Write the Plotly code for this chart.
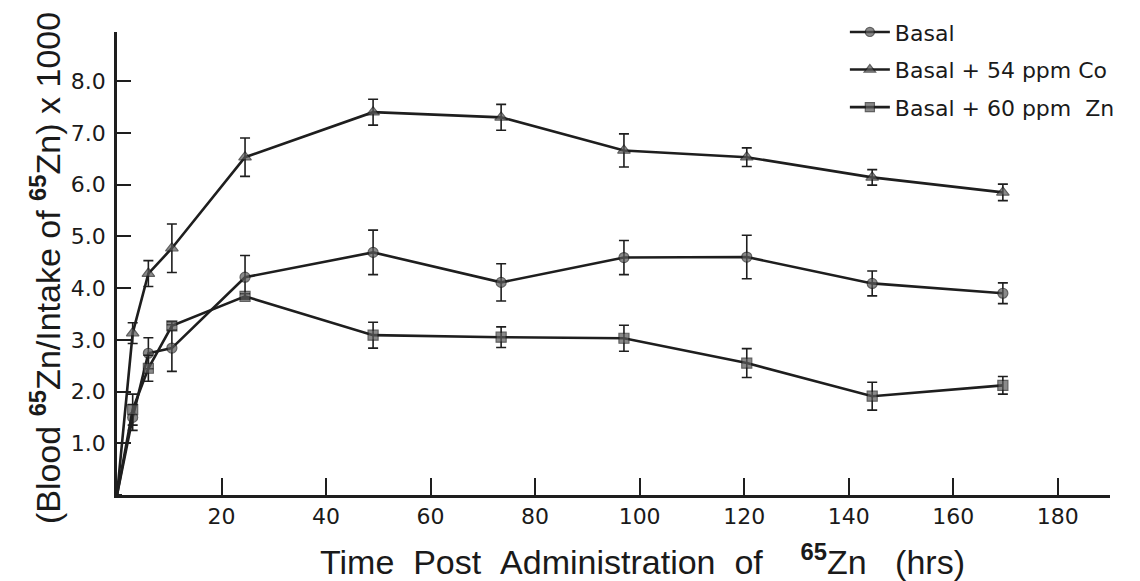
import numpy as np
import plotly.graph_objects as go

# Time post administration (hrs); 0 is the common origin of every curve
time_hrs = [0, 3, 6, 10.5, 24.5, 49, 73.5, 97, 120.5, 144.5, 169.5]

basal = [0, 1.5, 2.74, 2.84, 4.21, 4.69, 4.11, 4.59, 4.6, 4.09, 3.9]
basal_err = [None, 0.25, 0.3, 0.45, 0.42, 0.43, 0.36, 0.33, 0.42, 0.24, 0.2]

co = [0, 3.13, 4.28, 4.77, 6.53, 7.4, 7.3, 6.66, 6.53, 6.14, 5.85]
co_err = [None, 0.2, 0.25, 0.47, 0.37, 0.25, 0.25, 0.32, 0.18, 0.15, 0.16]

zn = [0, 1.65, 2.45, 3.27, 3.84, 3.09, 3.05, 3.03, 2.55, 1.91, 2.12]
zn_err = [None, 0.3, 0.25, 0.08, 0.05, 0.25, 0.2, 0.25, 0.28, 0.27, 0.17]

series_names = ["Basal", "Basal + 54 ppm Co", "Basal + 60 ppm  Zn"]
x_ticks = [20, 40, 60, 80, 100, 120, 140, 160, 180]
y_ticks = [1, 2, 3, 4, 5, 6, 7, 8]
y_tick_labels = ["1.0", "2.0", "3.0", "4.0", "5.0", "6.0", "7.0", "8.0"]

x_title = "Time&nbsp;&nbsp;Post&nbsp;&nbsp;Administration&nbsp;&nbsp;of&nbsp;&nbsp;&nbsp;&nbsp;<sup><b>65</b></sup>Zn&nbsp;&nbsp;&nbsp;(hrs)"
y_title = "(Blood <sup><b>65</b></sup>Zn/Intake of <sup><b>65</b></sup>Zn) x 1000"

FONT = "DejaVu Sans"
TFONT = "Liberation Sans"
LINE = "#1e1e1e"
FILL = "#5a5a5a"
TXT = "#1a1a1a"

def err(vals):
    return [np.nan if v is None else v for v in vals]

def sizes(n, s):
    return [0] + [s] * (n - 1)

fig = go.Figure()
specs = [
    (basal, basal_err, "circle", 10),
    (co, co_err, "triangle-up", 11),
    (zn, zn_err, "square", 10),
]
for i, (vals, e, sym, sz) in enumerate(specs):
    fig.add_trace(go.Scatter(
        x=time_hrs, y=vals, name=series_names[i], legendgroup=str(i),
        mode="lines+markers",
        line=dict(color=LINE, width=2.6),
        marker=dict(symbol=sym, size=sizes(len(vals), sz), color=FILL,
                    line=dict(color=LINE, width=1.2)),
        error_y=dict(type="data", array=err(e), visible=True,
                     color=LINE, thickness=1.6, width=5),
        cliponaxis=False,
    ))

# page body adds an 8px offset; margins compensate so the plot area lands
# at x 117-1110, y 32-495 in the captured window
fig.update_layout(
    width=1140, height=581,
    margin=dict(l=109, r=38, t=24, b=94, autoexpand=False),
    paper_bgcolor="white", plot_bgcolor="white",
    font=dict(family=FONT, color=TXT),
    showlegend=True,
    legend=dict(x=0.733, y=1.045, xanchor="left", yanchor="top",
                font=dict(size=22, family=FONT, color=TXT),
                tracegroupgap=6, itemwidth=40, bgcolor="rgba(0,0,0,0)"),
    xaxis=dict(range=[0, 190], tickvals=x_ticks, automargin=False,
               ticks="inside", ticklen=17, tickwidth=2, tickcolor=LINE,
               showline=True, linecolor=LINE, linewidth=2.5,
               showgrid=False, zeroline=False,
               tickfont=dict(size=22, family=FONT, color=TXT)),
    yaxis=dict(range=[0, 8.95], tickvals=y_ticks, ticktext=y_tick_labels,
               automargin=False, ticklabelstandoff=4,
               ticks="inside", ticklen=14, tickwidth=2, tickcolor=LINE,
               showline=True, linecolor=LINE, linewidth=2.5,
               showgrid=False, zeroline=False,
               tickfont=dict(size=22, family=FONT, color=TXT)),
    annotations=[
        dict(text=x_title, xref="paper", yref="paper", x=0.529, y=-0.14,
             xanchor="center", yanchor="middle", showarrow=False,
             font=dict(size=34, family=TFONT, color=TXT)),
        dict(text=y_title, xref="paper", yref="paper", x=-0.072, y=0.489,
             xanchor="center", yanchor="middle", showarrow=False, textangle=-90,
             font=dict(size=34, family=TFONT, color=TXT)),
    ],
)

fig.write_html("out.html")
